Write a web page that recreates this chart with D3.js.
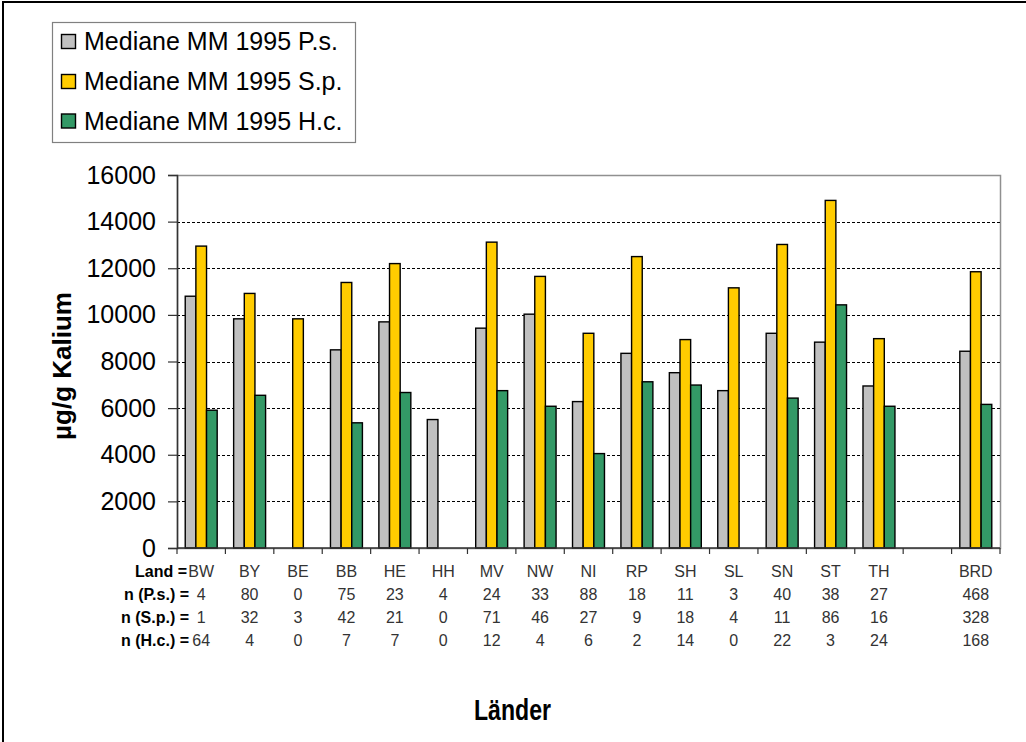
<!DOCTYPE html>
<html>
<head>
<meta charset="utf-8">
<script src="https://cdn.jsdelivr.net/npm/d3@7"></script>
<style>
  html, body { margin: 0; padding: 0; background: #fff; }
  svg { display: block; font-family: Arial, "Liberation Sans", sans-serif; }
</style>
</head>
<body>
<svg id="chart" width="1026" height="742"></svg>
<script>
// Bundesländer (one empty slot separates the states from the federal total)
const laender = ["BW", "BY", "BE", "BB", "HE", "HH", "MV", "NW", "NI", "RP", "SH", "SL", "SN", "ST", "TH", "", "BRD"];

// Median potassium content (µg/g) per species; null = no samples
const medianPs = [10800, 9830, null, 8500, 9700, 5510, 9430, 10030, 6280, 8350, 7520, 6750, 9210, 8830, 6950, null, 8440];
const medianSp = [12950, 10920, 9830, 11390, 12200, null, 13120, 11650, 9210, 12500, 8940, 11160, 13020, 14910, 8980, null, 11850];
const medianHc = [5910, 6550, null, 5370, 6670, null, 6750, 6080, 4050, 7130, 6990, null, 6430, 10430, 6080, null, 6160];

// Sample counts shown in the table under the axis
const nPs = ["4", "80", "0", "75", "23", "4", "24", "33", "88", "18", "11", "3", "40", "38", "27", "", "468"];
const nSp = ["1", "32", "3", "42", "21", "0", "71", "46", "27", "9", "18", "4", "11", "86", "16", "", "328"];
const nHc = ["64", "4", "0", "7", "7", "0", "12", "4", "6", "2", "14", "0", "22", "3", "24", "", "168"];

const tableLabels = ["Land =", "n (P.s.) =", "n (S.p.) =", "n (H.c.) ="];
const seriesNames = ["Mediane MM 1995 P.s.", "Mediane MM 1995 S.p.", "Mediane MM 1995 H.c."];
const seriesColors = ["#C0C0C0", "#FFCC00", "#339966"];
const yTicks = [0, 2000, 4000, 6000, 8000, 10000, 12000, 14000, 16000];

const svg = d3.select("#chart");

// outer frame of the chart object
svg.append("rect")
  .attr("x", 3).attr("y", 2)
  .attr("width", 1100).attr("height", 800)
  .attr("fill", "#fff").attr("stroke", "#000").attr("stroke-width", 2);

const plot = { left: 177, right: 1000, top: 175, bottom: 548 };

const x = d3.scaleBand().domain(laender).range([plot.left, plot.right]).paddingInner(0).paddingOuter(0);
const bw = x.bandwidth();
const xs = d3.scaleBand().domain([0, 1, 2]).range([bw * 0.17, bw * 0.83]);
const y = d3.scaleLinear().domain([0, 16000]).range([plot.bottom, plot.top]);

// plot area
svg.append("rect")
  .attr("x", plot.left + 0.5).attr("y", plot.top + 0.5)
  .attr("width", plot.right - plot.left).attr("height", plot.bottom - plot.top)
  .attr("fill", "#fff").attr("stroke", "#909090").attr("stroke-width", 1.5);

// dashed gridlines
svg.append("g")
  .selectAll("line")
  .data(yTicks.filter(t => t > 0 && t < 16000))
  .join("line")
  .attr("x1", plot.left).attr("x2", plot.right)
  .attr("y1", d => Math.round(y(d)) + 0.5).attr("y2", d => Math.round(y(d)) + 0.5)
  .attr("stroke", "#000").attr("stroke-width", 1)
  .attr("stroke-dasharray", "3,2");

// bars
const series = [medianPs, medianSp, medianHc];
series.forEach((vals, si) => {
  svg.append("g")
    .selectAll("rect")
    .data(laender.map((l, i) => ({ land: l, value: vals[i] })).filter(d => d.value != null))
    .join("rect")
    .attr("x", d => x(d.land) + xs(si))
    .attr("y", d => y(d.value))
    .attr("width", xs.bandwidth())
    .attr("height", d => y(0) - y(d.value))
    .attr("fill", seriesColors[si])
    .attr("stroke", "#000")
    .attr("stroke-width", 1.4);
});

// y axis
const yAxis = svg.append("g")
  .attr("transform", `translate(${plot.left},0)`)
  .call(d3.axisLeft(y).tickValues(yTicks).tickSize(9).tickPadding(12).tickFormat(d3.format("d")));
yAxis.select(".domain").attr("stroke", "#333").attr("stroke-width", 1.5);
yAxis.selectAll(".tick line").attr("stroke", "#333").attr("stroke-width", 1.2);
yAxis.selectAll(".tick text")
  .attr("font-size", 25).attr("font-family", "Arial, 'Liberation Sans', sans-serif")
  .attr("fill", "#000");

// x axis line with ticks between categories
const xAxis = svg.append("g");
xAxis.append("line")
  .attr("x1", plot.left).attr("x2", plot.right)
  .attr("y1", plot.bottom).attr("y2", plot.bottom)
  .attr("stroke", "#333").attr("stroke-width", 1.5);
xAxis.selectAll("line.tick")
  .data(laender.map(l => x(l)).concat([plot.right]))
  .join("line")
  .attr("class", "tick")
  .attr("x1", d => d).attr("x2", d => d)
  .attr("y1", plot.bottom).attr("y2", plot.bottom + 6)
  .attr("stroke", "#333").attr("stroke-width", 1.2);

// table under the axis
const rows = [laender, nPs, nSp, nHc];
const rowBase = [577, 600, 623, 646];
rows.forEach((row, ri) => {
  svg.append("g")
    .selectAll("text")
    .data(laender.map((l, i) => ({ land: l, label: row[i] })))
    .join("text")
    .attr("x", d => x(d.land) + bw / 2)
    .attr("y", rowBase[ri])
    .attr("text-anchor", "middle")
    .attr("font-size", 16)
    .attr("fill", "#333")
    .text(d => d.label);
  svg.append("text")
    .attr("x", ri === 0 ? 187 : 189)
    .attr("y", rowBase[ri])
    .attr("text-anchor", "end")
    .attr("font-size", 16)
    .attr("font-weight", "bold")
    .attr("fill", "#000")
    .text(tableLabels[ri]);
});

// axis titles
svg.append("text")
  .attr("transform", "translate(62,366) rotate(-90)")
  .attr("text-anchor", "middle")
  .attr("dy", "0.35em")
  .attr("font-size", 26)
  .attr("font-weight", "bold")
  .text("µg/g Kalium");

// condensed bold title under the table
svg.append("text")
  .attr("x", 474).attr("y", 720)
  .attr("font-size", 29)
  .attr("font-weight", "bold")
  .attr("textLength", 77)
  .attr("lengthAdjust", "spacingAndGlyphs")
  .text("Länder");

// legend
const legend = svg.append("g");
legend.append("rect")
  .attr("x", 52.5).attr("y", 22.5).attr("width", 303).attr("height", 120)
  .attr("fill", "#fff").attr("stroke", "#808080").attr("stroke-width", 1.2);
const legBase = [50, 90, 129.5];
seriesNames.forEach((name, i) => {
  legend.append("rect")
    .attr("x", 61.5).attr("y", legBase[i] - 15.5)
    .attr("width", 14).attr("height", 14)
    .attr("fill", seriesColors[i]).attr("stroke", "#000").attr("stroke-width", 1.4);
  legend.append("text")
    .attr("x", 84).attr("y", legBase[i])
    .attr("font-size", 25)
    .attr("fill", "#000")
    .text(name);
});
</script>
</body>
</html>
